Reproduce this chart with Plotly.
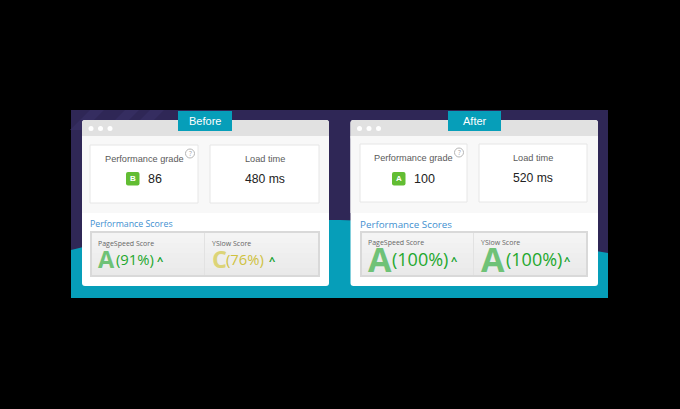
import plotly.graph_objects as go

# values
panel_names = ["Before", "After"]
grade_letters = ["B", "A"]
grade_values = ["86", "100"]
load_times = ["480 ms", "520 ms"]
pagespeed_letters = ["A", "A"]
pagespeed_scores = ["(91%)", "(100%)"]
yslow_letters = ["C", "A"]
yslow_scores = ["(76%)", "(100%)"]

PURPLE = "#2f2756"
TEAL = "#069eb9"
GREEN = "#1fa82e"
YELLOW = "#cfc23f"
FONT = "Open Sans"
CARD_FONT = "Liberation Sans"

# pixel boxes of the two windows
panel_x = [82, 350.5]
panel_w = [247, 247.5]
card_x = [(90, 198, 210, 319), (360, 467, 479, 587)]
card_y = [(145, 203), (144, 202)]
tab_x = [(178, 232), (448, 501)]
badge_x = [126, 392]
score_x = [(90, 320, 204), (360, 588, 473)]
big_size = [23.5, 34]
pct_size = [14.8, 18]
heading_size = [8.8, 9.8]
pct_x = [(116, 226), (392, 506)]
caret_x = [(160, 272), (454, 567)]

shapes = []
notes = []


def rect(x0, y0, x1, y1, fill, line=None, width=1):
    shapes.append(dict(type="rect", x0=x0, y0=y0, x1=x1, y1=y1, fillcolor=fill,
                       line=dict(color=line or fill, width=width if line else 0), layer="below"))


def rounded(x0, y0, x1, y1, r, fill):
    p = (f"M{x0+r},{y0} L{x1-r},{y0} Q{x1},{y0} {x1},{y0+r} L{x1},{y1-r} Q{x1},{y1} {x1-r},{y1} "
         f"L{x0+r},{y1} Q{x0},{y1} {x0},{y1-r} L{x0},{y0+r} Q{x0},{y0} {x0+r},{y0} Z")
    shapes.append(dict(type="path", path=p, fillcolor=fill, line=dict(width=0), layer="below"))


def label(x, y, text, size, color, anchor="center", bold=False, family=FONT):
    if bold:
        text = "<b>" + text + "</b>"
    notes.append(dict(x=x, y=y, text=text, showarrow=False, xanchor=anchor, yanchor="middle",
                      font=dict(family=family, size=size, color=color)))


# backdrop
rect(71, 110, 608, 298, PURPLE)
for sx0 in [90, 125, 150]:
    shapes.append(dict(type="path", path=f"M{sx0},110 L{sx0+14},110 L{sx0-6},130 L{sx0-20},130 Z",
                       fillcolor="#352d60", line=dict(width=0), layer="below"))
shapes.append(dict(type="path", path="M71,250 C160,226 260,219 340,220 C440,222 530,240 608,253 L608,298 L71,298 Z",
                   fillcolor=TEAL, line=dict(width=0), layer="below"))

for i, name in enumerate(panel_names):
    px, pw = panel_x[i], panel_w[i]
    rounded(px, 120, px + pw, 286, 3, "#ffffff")
    rounded(px, 120, px + pw, 140, 3, "#e1e1e1")
    rect(px, 136, px + pw, 213, "#f8f8f8")
    for k in range(3):
        cx = px + 9 + k * 9.5
        shapes.append(dict(type="circle", x0=cx - 2.5, x1=cx + 2.5, y0=126, y1=131,
                           fillcolor="#ffffff", line=dict(width=0), layer="below"))
    rect(tab_x[i][0], 111, tab_x[i][1], 131, TEAL)
    label(sum(tab_x[i]) / 2, 121, name, 11, "#ffffff", family=CARD_FONT)

    c = card_x[i]
    y0, y1 = card_y[i]
    rect(c[0], y0, c[1], y1, "#ffffff", "#e6e6e6")
    rect(c[2], y0, c[3], y1, "#ffffff", "#e6e6e6")
    mid1 = (c[0] + c[1]) / 2
    mid2 = (c[2] + c[3]) / 2
    label(mid1, y0 + 13.5, "Performance grade", 9.2, "#5a5a5a", family=CARD_FONT)
    label(mid2, y0 + 13.5, "Load time", 9.2, "#5a5a5a", family=CARD_FONT)
    label(mid2, y0 + 33.5, load_times[i], 12.2, "#222222", family=CARD_FONT)

    qx = c[1] - 8
    shapes.append(dict(type="circle", x0=qx - 4.5, x1=qx + 4.5, y0=y0 + 4, y1=y0 + 13,
                       fillcolor="rgba(0,0,0,0)", line=dict(color="#b5b5b5", width=1), layer="below"))
    label(qx, y0 + 8.5, "?", 6.5, "#a0a0a0")

    bx = badge_x[i]
    rounded(bx, 172, bx + 13.5, 185.5, 2, "#62bd33")
    label(bx + 6.8, 178.5, grade_letters[i], 8, "#ffffff", bold=True, family=CARD_FONT)
    label(bx + 20, 178.5, grade_values[i], 12.5, "#222222", anchor="left", family=CARD_FONT)

    # score strip
    sx = score_x[i]
    label(sx[0] - 2, 224, "Performance Scores", heading_size[i], "#3f90d0", anchor="left")
    rect(sx[0], 231, sx[1], 277, "#d9d9d9")
    for b in range(9):
        shade = 244 - b * 1.4
        rect(sx[0] + 2, 233 + b * 5, sx[1] - 2, 233 + (b + 1) * 5 if b < 8 else 275,
             f"rgb({shade:.0f},{shade:.0f},{shade:.0f})")
    rect(sx[2], 233, sx[2] + 1, 275, "#e2e2e2")

    off = 6
    for j, (left, text, letter, score) in enumerate([
        (sx[0], "PageSpeed Score", pagespeed_letters[i], pagespeed_scores[i]),
        (sx[2], "YSlow Score", yslow_letters[i], yslow_scores[i]),
    ]):
        col = YELLOW if letter == "C" else GREEN
        lcol = "#dcd478" if letter == "C" else "#6fc277"
        label(left + off, 243 if i == 0 else 242, text, 7, "#666666", anchor="left")
        label(left + off, 259, letter, big_size[i], lcol, anchor="left", bold=True)
        label(pct_x[i][j] - 2, 259, score, pct_size[i], col, anchor="left")
        label(caret_x[i][j], 260, "^", 11, "#12a02a", bold=True)

fig = go.Figure()
fig.update_layout(
    width=680, height=409,
    margin=dict(l=0, r=0, t=0, b=0),
    paper_bgcolor="#000000", plot_bgcolor="#000000",
    xaxis=dict(range=[0, 680], visible=False, fixedrange=True),
    yaxis=dict(range=[409, 0], visible=False, fixedrange=True),
    shapes=shapes, annotations=notes, showlegend=False,
)
fig.write_html("out.html", config={"displayModeBar": False},
               post_script="document.body.style.margin='0';document.body.style.background='#000';")
